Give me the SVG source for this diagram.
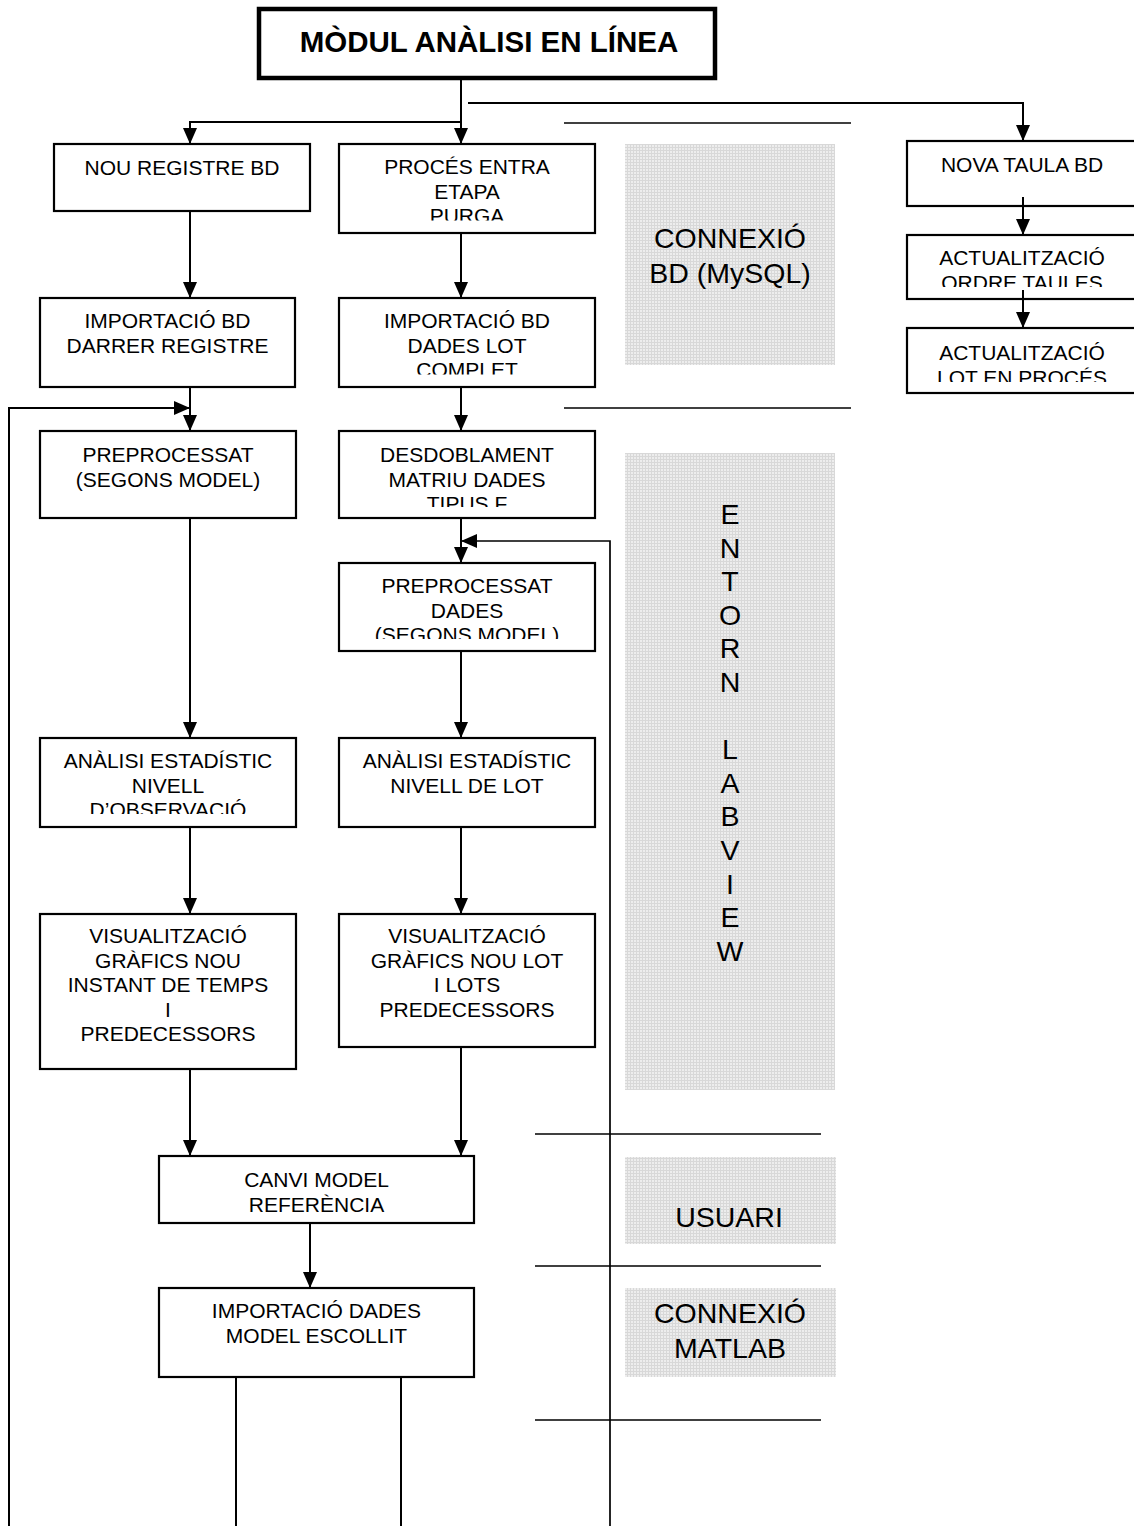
<svg xmlns="http://www.w3.org/2000/svg" width="1134" height="1526" viewBox="0 0 1134 1526">
<style>
.bx{fill:#fff;stroke:#000;stroke-width:2.2}
.tt{font-family:"Liberation Sans",Arial,sans-serif;font-size:21px;fill:#000;text-anchor:middle}
.lt{font-family:"Liberation Sans",Arial,sans-serif;font-size:28.5px;fill:#000;text-anchor:middle}
.cn{fill:none;stroke:#000;stroke-width:2}
.sep{fill:none;stroke:#000;stroke-width:1.6}
.gr{fill:url(#grid)}
</style>
<defs>
<marker id="ah" markerUnits="userSpaceOnUse" markerWidth="16" markerHeight="14" refX="16" refY="7" orient="auto">
<path d="M0,0 L16,7 L0,14 Z" fill="#000"/>
</marker>
<pattern id="grid" patternUnits="userSpaceOnUse" width="3" height="3">
<rect width="3" height="3" fill="#ededed"/>
<rect width="3" height="1" fill="#d8d8d8"/>
<rect width="1" height="3" fill="#d8d8d8"/>
</pattern>
<clipPath id="k2"><rect x="339" y="144" width="256" height="76.5"/></clipPath>
<clipPath id="k4"><rect x="339" y="298" width="256" height="76.5"/></clipPath>
<clipPath id="k6"><rect x="339" y="431" width="256" height="76"/></clipPath>
<clipPath id="k7"><rect x="339" y="563" width="256" height="76"/></clipPath>
<clipPath id="k8"><rect x="40" y="738" width="256" height="76"/></clipPath>
<clipPath id="k15"><rect x="907" y="235" width="230" height="52"/></clipPath>
<clipPath id="k16"><rect x="907" y="328" width="230" height="54"/></clipPath>
</defs>
<rect width="1134" height="1526" fill="#fff"/>

<g id="lanes">
<g id="lane-bd">
<rect class="gr" x="625" y="144" width="210" height="221"/>
<text class="lt" x="730" y="248">CONNEXIÓ</text>
<text class="lt" x="730" y="283">BD (MySQL)</text>
</g>
<g id="lane-labview">
<rect class="gr" x="625" y="453" width="210" height="637"/>
<text class="lt" x="730" y="524">E</text>
<text class="lt" x="730" y="557.6">N</text>
<text class="lt" x="730" y="591.2">T</text>
<text class="lt" x="730" y="624.8">O</text>
<text class="lt" x="730" y="658.4">R</text>
<text class="lt" x="730" y="692">N</text>
<text class="lt" x="730" y="759.2">L</text>
<text class="lt" x="730" y="792.8">A</text>
<text class="lt" x="730" y="826.4">B</text>
<text class="lt" x="730" y="860">V</text>
<text class="lt" x="730" y="893.6">I</text>
<text class="lt" x="730" y="927.2">E</text>
<text class="lt" x="730" y="960.8">W</text>
</g>
<g id="lane-usuari">
<rect class="gr" x="625" y="1157" width="211" height="87"/>
<text class="lt" x="729" y="1227">USUARI</text>
</g>
<g id="lane-matlab">
<rect class="gr" x="625" y="1288" width="211" height="89"/>
<text class="lt" x="730" y="1323">CONNEXIÓ</text>
<text class="lt" x="730" y="1358">MATLAB</text>
</g>
<g id="separators">
<line class="sep" x1="564" y1="123" x2="851" y2="123"/>
<line class="sep" x1="564" y1="408" x2="851" y2="408"/>
<line class="sep" x1="535" y1="1134" x2="821" y2="1134"/>
<line class="sep" x1="535" y1="1266" x2="821" y2="1266"/>
<line class="sep" x1="535" y1="1420" x2="821" y2="1420"/>
</g>
</g>

<g id="title">
<rect x="259" y="9" width="456" height="69" fill="#fff" stroke="#000" stroke-width="4.5"/>
<text x="489" y="52" font-family="'Liberation Sans',Arial,sans-serif" font-size="29.5" font-weight="bold" text-anchor="middle">MÒDUL ANÀLISI EN LÍNEA</text>
</g>

<g id="n1">
<rect class="bx" x="54" y="144" width="256" height="67"/>
<text class="tt" x="182" y="175">NOU REGISTRE BD</text>
</g>
<g id="n2">
<rect class="bx" x="339" y="144" width="256" height="89"/>
<g clip-path="url(#k2)">
<text class="tt" x="467" y="174">PROCÉS ENTRA</text>
<text class="tt" x="467" y="198.5">ETAPA</text>
<text class="tt" x="467" y="223">PURGA</text>
</g>
</g>
<g id="n3">
<rect class="bx" x="40" y="298" width="255" height="89"/>
<text class="tt" x="167.5" y="328">IMPORTACIÓ BD</text>
<text class="tt" x="167.5" y="352.5">DARRER REGISTRE</text>
</g>
<g id="n4">
<rect class="bx" x="339" y="298" width="256" height="89"/>
<g clip-path="url(#k4)">
<text class="tt" x="467" y="328">IMPORTACIÓ BD</text>
<text class="tt" x="467" y="352.5">DADES LOT</text>
<text class="tt" x="467" y="377">COMPLET</text>
</g>
</g>
<g id="n5">
<rect class="bx" x="40" y="431" width="256" height="87"/>
<text class="tt" x="168" y="462">PREPROCESSAT</text>
<text class="tt" x="168" y="486.5">(SEGONS MODEL)</text>
</g>
<g id="n6">
<rect class="bx" x="339" y="431" width="256" height="87"/>
<g clip-path="url(#k6)">
<text class="tt" x="467" y="462">DESDOBLAMENT</text>
<text class="tt" x="467" y="486.5">MATRIU DADES</text>
<text class="tt" x="467" y="511">TIPUS F</text>
</g>
</g>
<g id="n7">
<rect class="bx" x="339" y="563" width="256" height="88"/>
<g clip-path="url(#k7)">
<text class="tt" x="467" y="593">PREPROCESSAT</text>
<text class="tt" x="467" y="617.5">DADES</text>
<text class="tt" x="467" y="642">(SEGONS MODEL)</text>
</g>
</g>
<g id="n8">
<rect class="bx" x="40" y="738" width="256" height="89"/>
<g clip-path="url(#k8)">
<text class="tt" x="168" y="768">ANÀLISI ESTADÍSTIC</text>
<text class="tt" x="168" y="792.5">NIVELL</text>
<text class="tt" x="168" y="817">D’OBSERVACIÓ</text>
</g>
</g>
<g id="n9">
<rect class="bx" x="339" y="738" width="256" height="89"/>
<text class="tt" x="467" y="768">ANÀLISI ESTADÍSTIC</text>
<text class="tt" x="467" y="792.5">NIVELL DE LOT</text>
</g>
<g id="n10">
<rect class="bx" x="40" y="914" width="256" height="155"/>
<text class="tt" x="168" y="943">VISUALITZACIÓ</text>
<text class="tt" x="168" y="967.5">GRÀFICS NOU</text>
<text class="tt" x="168" y="992">INSTANT DE TEMPS</text>
<text class="tt" x="168" y="1016.5">I</text>
<text class="tt" x="168" y="1041">PREDECESSORS</text>
</g>
<g id="n11">
<rect class="bx" x="339" y="914" width="256" height="133"/>
<text class="tt" x="467" y="943">VISUALITZACIÓ</text>
<text class="tt" x="467" y="967.5">GRÀFICS NOU LOT</text>
<text class="tt" x="467" y="992">I LOTS</text>
<text class="tt" x="467" y="1016.5">PREDECESSORS</text>
</g>
<g id="n12">
<rect class="bx" x="159" y="1156" width="315" height="67"/>
<text class="tt" x="316.5" y="1187">CANVI MODEL</text>
<text class="tt" x="316.5" y="1211.5">REFERÈNCIA</text>
</g>
<g id="n13">
<rect class="bx" x="159" y="1288" width="315" height="89"/>
<text class="tt" x="316.5" y="1318">IMPORTACIÓ DADES</text>
<text class="tt" x="316.5" y="1342.5">MODEL ESCOLLIT</text>
</g>
<g id="n14">
<rect class="bx" x="907" y="141" width="230" height="65"/>
<text class="tt" x="1022" y="172">NOVA TAULA BD</text>
</g>
<g id="n15">
<rect class="bx" x="907" y="235" width="230" height="64"/>
<g clip-path="url(#k15)">
<text class="tt" x="1022" y="265">ACTUALITZACIÓ</text>
<text class="tt" x="1022" y="290">ORDRE TAULES</text>
</g>
</g>
<g id="n16">
<rect class="bx" x="907" y="328" width="230" height="65"/>
<g clip-path="url(#k16)">
<text class="tt" x="1022" y="360">ACTUALITZACIÓ</text>
<text class="tt" x="1022" y="385">LOT EN PROCÉS</text>
</g>
</g>

<g id="connectors">
<path class="cn" d="M461,80 V144" marker-end="url(#ah)"/>
<path class="cn" d="M461,122 H190 V144" marker-end="url(#ah)"/>
<path class="cn" d="M468,103 H1023 V141" marker-end="url(#ah)"/>
<path class="cn" d="M190,211 V298" marker-end="url(#ah)"/>
<path class="cn" d="M461,233 V298" marker-end="url(#ah)"/>
<path class="cn" d="M1023,197 V235" marker-end="url(#ah)"/>
<path class="cn" d="M1023,290 V328" marker-end="url(#ah)"/>
<path class="cn" d="M190,387 V431" marker-end="url(#ah)"/>
<path class="cn" d="M461,387 V431" marker-end="url(#ah)"/>
<path class="cn" d="M9,1526 V408 H190" marker-end="url(#ah)"/>
<path class="cn" d="M190,518 V738" marker-end="url(#ah)"/>
<path class="cn" d="M461,518 V563" marker-end="url(#ah)"/>
<path class="cn" style="stroke-width:1.7" d="M610,1526 V541 H461" marker-end="url(#ah)"/>
<path class="cn" d="M461,651 V738" marker-end="url(#ah)"/>
<path class="cn" d="M190,827 V914" marker-end="url(#ah)"/>
<path class="cn" d="M461,827 V914" marker-end="url(#ah)"/>
<path class="cn" d="M190,1069 V1156" marker-end="url(#ah)"/>
<path class="cn" d="M461,1047 V1156" marker-end="url(#ah)"/>
<path class="cn" d="M310,1223 V1288" marker-end="url(#ah)"/>
<path class="cn" d="M236,1377 V1526"/>
<path class="cn" d="M401,1377 V1526"/>
</g>
</svg>
